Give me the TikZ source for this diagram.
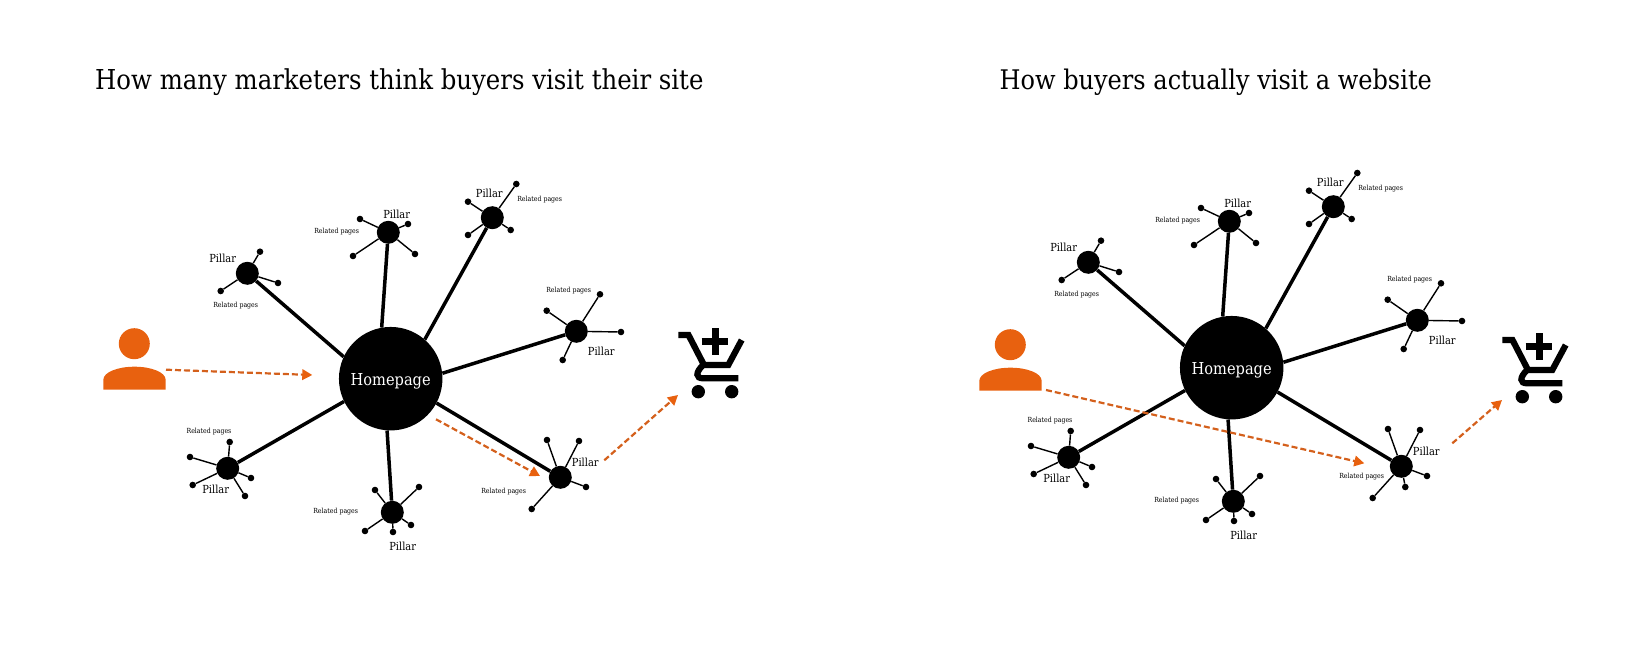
\documentclass[tikz,border=0pt]{standalone}
\usepackage{fontspec}
\setmainfont{DejaVu Serif}[FakeStretch=0.89]
\usetikzlibrary{arrows.meta}
\definecolor{brandorange}{HTML}{E8610F}
\definecolor{dashorange}{HTML}{D4601C}
\tikzset{
  x=1pt,y=-1pt,
  homebox/.style={circle,fill=black,draw=none,minimum size=103.5pt,inner sep=0pt,text=white,font=\fontsize{16.4}{20}\selectfont},
  pillar/.style={circle,fill=black,draw=none,minimum size=23pt,inner sep=0pt},
  leaf/.style={circle,fill=black,draw=none,minimum size=6.6pt,inner sep=0pt},
  twig/.style={line width=1.4pt},
  spoke/.style={line width=3.5pt},
  pillarlabel/.style={font=\fontsize{11.1}{13}\selectfont,text=black,inner sep=0pt},
  relatedlabel/.style={font=\fontsize{7}{8}\selectfont,text=black,inner sep=0pt},
  titlelabel/.style={text=black,anchor=base west,inner sep=0pt},
  journey/.style={dashorange,line width=2.2pt,dash pattern=on 6pt off 3pt,
    -{Triangle[length=10pt,width=10.5pt,color=brandorange,sep=0pt]}},
  personfill/.style={fill=brandorange,draw=none},
  cartline/.style={line width=6.2pt,line join=miter},
}
\newcommand{\hubnode}[3]{%
  \node[pillar] (#1) at (#2) {};
  \foreach \lx/\ly [count=\li] in {#3} {
    \node[leaf] (#1l\li) at (\lx,\ly) {};
    \draw[twig] (#1) -- (#1l\li);
  }
}
\newcommand{\starnet}[2]{%
  % #1 prefix, #2 leaves of the lower right pillar
  \node[homebox] (#1home) at (390.7,378.7) {\raisebox{-6.6pt}[0pt][0pt]{Homepage}};
  \hubnode{#1a}{247.3,273.3}{260/251.7,278/283,220.7/291}
  \hubnode{#1b}{388.3,232.3}{360/219,408/224,415/254,353/256}
  \hubnode{#1c}{492.3,217.7}{516.3/184,468/201.7,468/235,510.7/230}
  \hubnode{#1d}{576.3,331.3}{600/294.3,546.7/310.7,621/332,562.7/360}
  \hubnode{#1e}{227.7,468.3}{229.7/442,190/457,192.7/485,245/496,251/478}
  \hubnode{#1f}{392.3,512.3}{375/490,419/487,411/525,393/532,365/531}
  \hubnode{#1g}{560.3,477.3}{#2}
  \draw[spoke] (#1a) -- (#1home.155.7);
  \draw[spoke] (#1b) -- (#1home.100.8);
  \draw[spoke] (#1c) -- (#1home.49.7);
  \draw[spoke] (#1d) -- (#1home.6);
  \draw[spoke] (#1e) -- (#1home.206);
  \draw[spoke] (#1f) -- (#1home.-94.4);
  \draw[spoke] (#1g) -- (#1home.-28.5);
  \node[pillarlabel] (#1pa) at (222.7,258) {Pillar};
  \node[pillarlabel] (#1pb) at (396.7,214) {Pillar};
  \node[pillarlabel] (#1pc) at (489.3,193) {Pillar};
  \node[pillarlabel] (#1pd) at (601.3,351) {Pillar};
  \node[pillarlabel] (#1pe) at (215.7,489) {Pillar};
  \node[pillarlabel] (#1pf) at (402.7,546) {Pillar};
  \node[pillarlabel] (#1pg) at (585.3,462.3) {Pillar};
  \node[relatedlabel] (#1ra) at (235.7,305.3) {Related pages};
  \node[relatedlabel] (#1rb) at (336.7,231.3) {Related pages};
  \node[relatedlabel] (#1rc) at (539.7,199.3) {Related pages};
  \node[relatedlabel] (#1rd) at (568.7,290.3) {Related pages};
  \node[relatedlabel] (#1re) at (209,431.7) {Related pages};
  \node[relatedlabel] (#1rf) at (335.7,511.3) {Related pages};
}
\newcommand{\personicon}[1]{%
  \coordinate (#1) at (134.5,390);
  \fill[personfill] (134.3,343.7) circle (15.5);
  \fill[personfill] (103.3,389.5) -- (103.3,380) .. controls (103.3,372) and (118,366.7) .. (134.5,366.7)
    .. controls (151,366.7) and (165.7,372) .. (165.7,380) -- (165.7,389.5) -- cycle;
}
\newcommand{\carticon}[1]{%
  \coordinate (#1) at (678,395);
  \draw[line width=7pt] (715,328.3) -- (715,355.3) (701.6,341.7) -- (728.4,341.7);
  \draw[cartline] (678.3,335) -- (688.5,335) -- (704,365) -- (728.3,365) -- (741.7,340);
  \draw[cartline] (738.3,378.3) -- (703,378.3) .. controls (696,378.3) and (695,373) .. (703,365);
  \fill (698.3,391.7) circle (6.7);
  \fill (731.7,391.7) circle (6.7);
}
\begin{document}
\begin{tikzpicture}
\useasboundingbox (0,0) rectangle (1639,647);
\node[titlelabel,font=\fontsize{27.4}{32}\selectfont] (t1) at (95,90) {How many marketers think buyers visit their site};
\node[titlelabel,font=\fontsize{27}{32}\selectfont] (t2) at (999.5,90) {How buyers actually visit a website};
\starnet{L}{547/440,579/441,586/487,531.7/509}
\node[relatedlabel] (Lrg) at (503.7,491.3) {Related pages};
\begin{scope}[shift={(841,-11)}]
\starnet{R}{547/440,579/441,586/487,531.7/509,564.3/498}
\node[relatedlabel] (Rrg) at (520.7,487.3) {Related pages};
\end{scope}
\personicon{Lperson}
\carticon{Lcart}
\begin{scope}[shift={(876,1)}]
\personicon{Rperson}
\end{scope}
\begin{scope}[shift={(824,5)}]
\carticon{Rcart}
\end{scope}
\coordinate (la0) at (166,369.7);
\coordinate (la1) at (312.3,375);
\coordinate (lb0) at (436,419.3);
\coordinate (lb1) at (540,476);
\coordinate (lc0) at (604.3,460.3);
\coordinate (ra0) at (1046,390);
\coordinate (ra1) at (1364.3,463.3);
\coordinate (rc0) at (1452.3,443.3);
\draw[journey] (la0) -- (la1);
\draw[journey] (lb0) -- (lb1);
\draw[journey] (lc0) -- (Lcart);
\draw[journey] (ra0) -- (ra1);
\draw[journey] (rc0) -- (Rcart);
\end{tikzpicture}
\end{document}
